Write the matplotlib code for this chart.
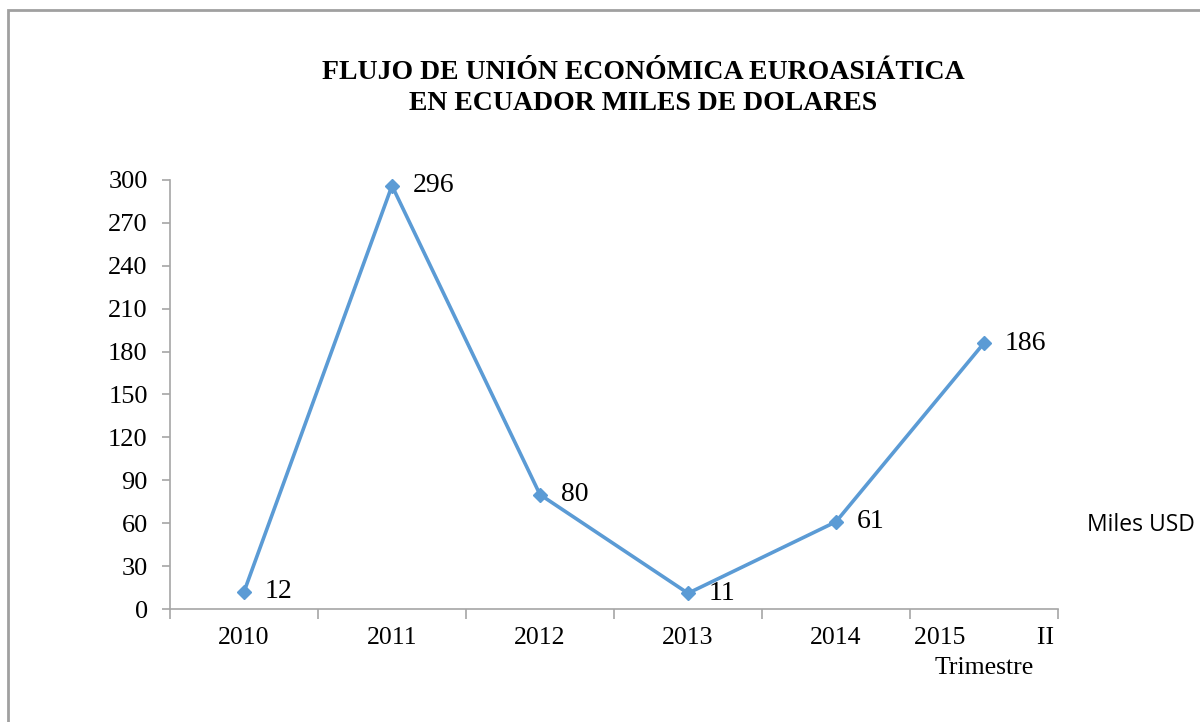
import matplotlib
matplotlib.use("Agg")
import matplotlib.pyplot as plt
from matplotlib.patches import Rectangle

categories = ["2010", "2011", "2012", "2013", "2014", "2015           II\nTrimestre"]
values = [12, 296, 80, 11, 61, 186]
yticks = [0, 30, 60, 90, 120, 150, 180, 210, 240, 270, 300]
title = "FLUJO DE UNIÓN ECONÓMICA EUROASIÁTICA\nEN ECUADOR MILES DE DOLARES"
legend_label = "Miles USD"

line_color = "#5B9BD5"
grey = "#A6A6A6"
serif = ["Liberation Serif", "DejaVu Serif"]

fig = plt.figure(figsize=(12, 7.22), dpi=100)
fig.patches.append(Rectangle((8/1200, -0.1), 1.5, 1.1 - 10/722, transform=fig.transFigure,
                             fill=False, edgecolor="#A0A0A0", linewidth=2, zorder=0))

ax = fig.add_axes([170/1200, 1 - 609/722, 888/1200, 429/722])
x = list(range(len(values)))
ax.plot(x, values, color=line_color, linewidth=2.6, marker="D", markersize=7.5,
        markeredgecolor=line_color, markerfacecolor=line_color, clip_on=False)
for xi, v in zip(x, values):
    ax.annotate(str(v), (xi, v), xytext=(15, 0), textcoords="offset points",
                ha="left", va="center", fontsize=20, family=serif)

ax.set_xlim(-0.5, len(values) - 0.5)
ax.set_ylim(0, 300)
ax.set_yticks(yticks)
ax.set_yticklabels([str(t) for t in yticks], family=serif, fontsize=19)
ax.set_xticks(x)
ax.set_xticklabels(categories, family=serif, fontsize=18.5, linespacing=1.45)
ax.set_xticks([i - 0.5 for i in range(len(values) + 1)], minor=True)
ax.tick_params(axis="x", which="major", length=0, pad=13)
ax.tick_params(axis="x", which="minor", length=7, color=grey, width=1.2, direction="out")
ax.tick_params(axis="y", length=6, color=grey, width=1.2, direction="out", pad=10)
for s in ["top", "right"]:
    ax.spines[s].set_visible(False)
for s in ["left", "bottom"]:
    ax.spines[s].set_color(grey)
    ax.spines[s].set_linewidth(1.2)

fig.text(643/1200, 1 - 88/722, title, ha="center", va="center", fontsize=20,
         fontweight="bold", family=serif, linespacing=1.35)
fig.text(1087/1200, 1 - 525/722, legend_label, ha="left", va="center", fontsize=16.5,
         family=["Open Sans", "DejaVu Sans"])

fig.savefig("out.png", dpi=100)
